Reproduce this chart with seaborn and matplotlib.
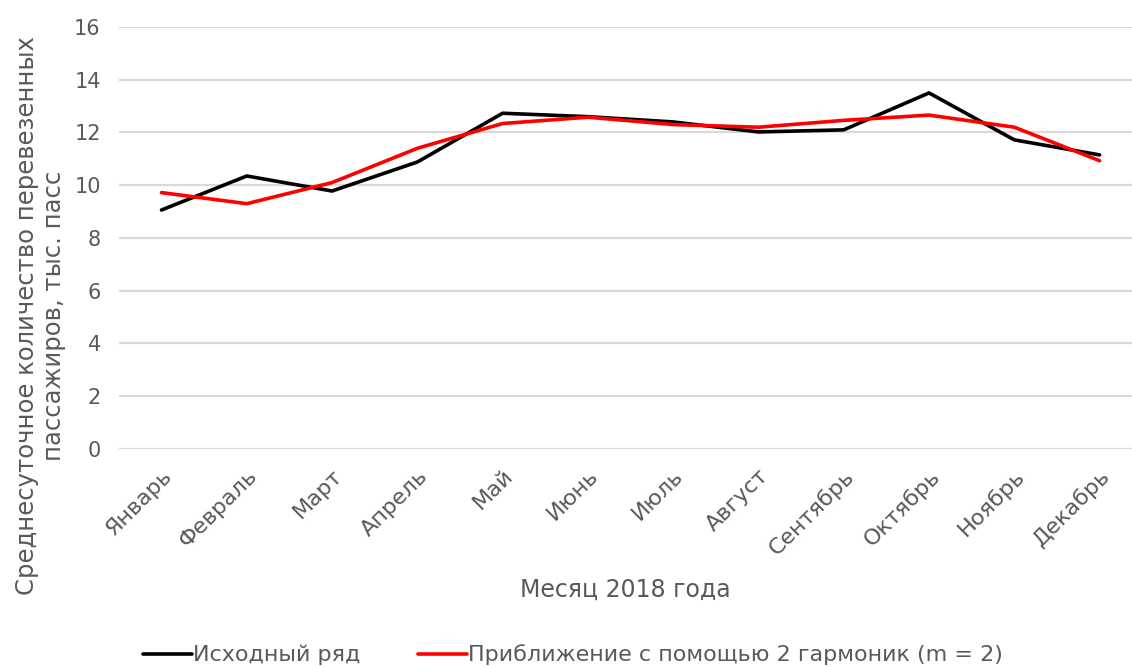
import matplotlib
matplotlib.use("Agg")
import matplotlib.pyplot as plt
import seaborn as sns
import pandas as pd

months = ["Январь", "Февраль", "Март", "Апрель", "Май", "Июнь",
          "Июль", "Август", "Сентябрь", "Октябрь", "Ноябрь", "Декабрь"]
original = [9.06, 10.35, 9.78, 10.88, 12.73, 12.60, 12.40, 12.02, 12.10, 13.50, 11.72, 11.15]
harmonic_fit = [9.72, 9.30, 10.10, 11.40, 12.34, 12.58, 12.30, 12.20, 12.46, 12.66, 12.20, 10.93]

series_names = ["Исходный ряд", "Приближение с помощью 2 гармоник (m = 2)"]
y_ticks = [0, 2, 4, 6, 8, 10, 12, 14, 16]

sns.set_theme(style="white")
plt.rcParams["font.family"] = ["DejaVu Sans"]

TEXT = "#595959"

df = pd.DataFrame({
    "idx": list(range(len(months))) * 2,
    "value": original + harmonic_fit,
    "series": [series_names[0]] * len(months) + [series_names[1]] * len(months),
})

fig = plt.figure(figsize=(11.32, 6.67), dpi=100)
ax = fig.add_axes([0.105, 0.327, 0.895, 0.6325])

sns.lineplot(data=df, x="idx", y="value", hue="series",
             palette={series_names[0]: "#000000", series_names[1]: "#ff0000"},
             linewidth=2.6, ax=ax, legend=False, sort=False)

ax.set_ylim(0, 16)
ax.set_xlim(-0.5, 11.38)
ax.set_yticks(y_ticks)
ax.set_yticklabels([str(t) for t in y_ticks], fontsize=15, color=TEXT)
ax.set_xticks(range(len(months)))
ax.set_xticklabels(months, rotation=45, ha="right", rotation_mode="anchor",
                   fontsize=16, color=TEXT)
ax.tick_params(axis="both", length=0)
ax.tick_params(axis="x", pad=12)
ax.tick_params(axis="y", pad=13)
ax.grid(axis="y", color="#d9d9d9", linewidth=1.6)
ax.grid(axis="x", visible=False)
for s in ax.spines.values():
    s.set_visible(False)

ax.set_ylabel("")
ax.set_xlabel("Месяц 2018 года", fontsize=17, color=TEXT, labelpad=14)
fig.text(0.036, 0.527, "Среднесуточное количество перевезенных\nпассажиров, тыс. пасс",
         ha="center", va="center", rotation=90, fontsize=17.5, color=TEXT,
         linespacing=1.15)

handles = [plt.Line2D([], [], color="#000000", linewidth=2.6),
           plt.Line2D([], [], color="#ff0000", linewidth=2.6)]
fig.legend(handles, series_names, loc="center", bbox_to_anchor=(0.506, 0.018),
           ncol=2, frameon=False, fontsize=16, labelcolor=TEXT,
           handlelength=2.2, handletextpad=0.05, columnspacing=2.6)

fig.savefig("out.png", dpi=100)
